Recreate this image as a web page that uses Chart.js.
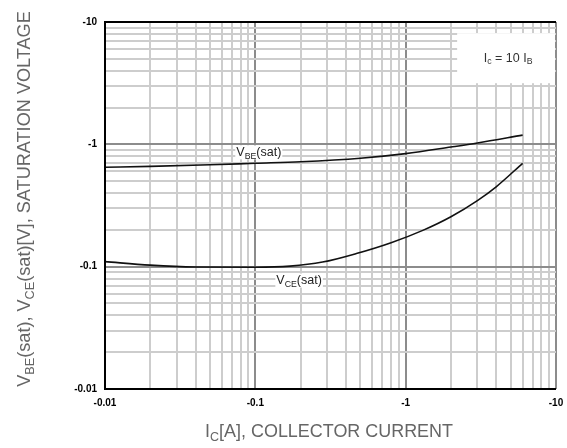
<!DOCTYPE html>
<html>
<head>
<meta charset="utf-8">
<script src="https://cdn.jsdelivr.net/npm/chart.js@4/dist/chart.umd.min.js"></script>
<style>
html,body{margin:0;padding:0;background:#fff;}
#wrap{width:567px;height:448px;position:relative;}
</style>
</head>
<body>
<div id="wrap"><canvas id="c" width="567" height="448"></canvas></div>
<script>
// ---- data ----
const vbeCurrents = [0.01, 0.02, 0.05, 0.1, 0.2, 0.5, 1, 2, 3, 6];
const vbeValues   = [0.65, 0.66, 0.68, 0.70, 0.72, 0.77, 0.84, 0.95, 1.025, 1.19];
const vceCurrents = [0.01, 0.02, 0.04, 0.1, 0.17, 0.28, 0.47, 0.8, 1.3, 2, 3, 4, 6];
const vceValues   = [0.11, 0.103, 0.0995, 0.099, 0.101, 0.109, 0.128, 0.157, 0.198, 0.256, 0.347, 0.45, 0.70];
const majorTicks  = [0.01, 0.1, 1, 10];
const majorLabels = ['-0.01', '-0.1', '-1', '-10'];
const seriesNames = ['VBE(sat)', 'VCE(sat)'];

const FONT = '"Liberation Sans", Arial, sans-serif';

function toPoints(xs, ys){ return xs.map((x,i)=>({x:x, y:ys[i]})); }
function isMajor(v){ return majorTicks.some(m => Math.abs(m - v) / m < 1e-6); }
function logTicks(scale){
  const t = [];
  for (let i = 0; i < majorTicks.length - 1; i++) {
    for (let m = 1; m <= 9; m++) t.push({value: Number((majorTicks[i]*m).toPrecision(4))});
  }
  t.push({value: majorTicks[majorTicks.length-1]});
  scale.ticks = t;
}
function tickLabel(v){
  const idx = majorTicks.findIndex(m => Math.abs(m - v) / m < 1e-6);
  return idx >= 0 ? majorLabels[idx] : '';
}

function drawSubText(ctx, parts, size){
  let x = 0;
  parts.forEach(p => {
    if (p[1]) {
      ctx.font = (size*0.7) + 'px ' + FONT;
      ctx.fillText(p[0], x, size*0.3);
    } else {
      ctx.font = size + 'px ' + FONT;
      ctx.fillText(p[0], x, 0);
    }
    x += ctx.measureText(p[0]).width;
  });
  return x;
}
function measureSub(ctx, parts, size){
  let w = 0;
  parts.forEach(p => {
    ctx.font = (p[1] ? size*0.7 : size) + 'px ' + FONT;
    w += ctx.measureText(p[0]).width;
  });
  return w;
}

const decor = {
  id: 'decor',
  beforeDatasetsDraw(chart){
    const ctx = chart.ctx;
    const xs = chart.scales.x, ys = chart.scales.y;
    const a = chart.chartArea;
    ctx.save();
    // condition box
    const bx = xs.getPixelForValue(2.2), by = ys.getPixelForValue(8.1);
    const bw = a.right - bx - 1, bh = ys.getPixelForValue(3.16) - by;
    ctx.fillStyle = '#fff';
    ctx.fillRect(bx, by, bw, bh);
    ctx.fillStyle = '#333';
    ctx.textBaseline = 'middle';
    ctx.save();
    const partsBox = [['I',0],['c',1],[' = 10 I',0],['B',1]];
    const wBox = measureSub(ctx, partsBox, 12.5);
    ctx.translate(bx + bw/2 - wBox/2 + 2, by + bh/2);
    drawSubText(ctx, partsBox, 12.5);
    ctx.restore();
    // curve labels
    const labels = [
      {parts:[['V',0],['BE',1],['(sat)',0]], x:0.0747, y:0.86},
      {parts:[['V',0],['CE',1],['(sat)',0]], x:0.138, y:0.077}
    ];
    labels.forEach(l => {
      const px = xs.getPixelForValue(l.x), py = ys.getPixelForValue(l.y);
      const w = measureSub(ctx, l.parts, 12.5);
      ctx.fillStyle = '#fff';
      ctx.fillRect(px - 1, py - 7, w + 2, 14);
      ctx.fillStyle = '#222';
      ctx.save();
      ctx.translate(px, py);
      drawSubText(ctx, l.parts, 12.5);
      ctx.restore();
    });
    ctx.restore();
  },
  afterDraw(chart){
    const ctx = chart.ctx;
    const a = chart.chartArea;
    ctx.save();
    ctx.strokeStyle = '#000';
    ctx.lineWidth = 2;
    ctx.beginPath();
    ctx.moveTo(a.right, a.top); ctx.lineTo(a.left, a.top);
    ctx.lineTo(a.left, a.bottom); ctx.lineTo(a.right, a.bottom);
    ctx.stroke();
    // axis titles
    ctx.fillStyle = '#666';
    ctx.textBaseline = 'middle';
    const yParts = [['V',0],['BE',1],['(sat), V',0],['CE',1],['(sat)[V], SATURATION VOLTAGE',0]];
    let s = 14;
    s = s * 376 / measureSub(ctx, yParts, s);
    const wy = measureSub(ctx, yParts, s);
    ctx.save();
    ctx.translate(25, 199 + wy/2);
    ctx.rotate(-Math.PI/2);
    drawSubText(ctx, yParts, s);
    ctx.restore();
    const xParts = [['I',0],['C',1],['[A], COLLECTOR CURRENT',0]];
    let sx = 14;
    sx = sx * 248 / measureSub(ctx, xParts, sx);
    const wx = measureSub(ctx, xParts, sx);
    ctx.save();
    ctx.translate(329 - wx/2, 432);
    drawSubText(ctx, xParts, sx);
    ctx.restore();
    ctx.restore();
  }
};

const gridOpts = {
  color: c => isMajor(c.tick.value) ? '#8c8c8c' : '#cdcdcd',
  lineWidth: 2,
  drawTicks: false
};

new Chart(document.getElementById('c'), {
  type: 'line',
  data: {
    datasets: [
      {label: seriesNames[0], data: toPoints(vbeCurrents, vbeValues), borderColor: '#111', borderWidth: 1.6, pointRadius: 0, cubicInterpolationMode: 'monotone', fill: false},
      {label: seriesNames[1], data: toPoints(vceCurrents, vceValues), borderColor: '#111', borderWidth: 1.6, pointRadius: 0, cubicInterpolationMode: 'monotone', fill: false}
    ]
  },
  options: {
    responsive: false,
    animation: false,
    layout: {padding: {top: 22, right: 11, left: 0, bottom: 0}},
    plugins: {legend: {display: false}, tooltip: {enabled: false}},
    scales: {
      x: {
        type: 'logarithmic', min: 0.01, max: 10,
        afterBuildTicks: logTicks,
        afterFit: s => { s.height = 59; s.paddingRight = 0; s.paddingLeft = 0; },
        grid: gridOpts,
        border: {display: false},
        ticks: {autoSkip: false, maxRotation: 0, padding: 8, color: '#000', font: {family: FONT, size: 10, weight: 'bold'}, callback: v => tickLabel(v)}
      },
      y: {
        type: 'logarithmic', min: 0.01, max: 10,
        afterBuildTicks: logTicks,
        afterFit: s => { s.width = 105; s.paddingTop = 0; s.paddingBottom = 0; },
        grid: gridOpts,
        border: {display: false},
        ticks: {autoSkip: false, padding: 8, color: '#000', font: {family: FONT, size: 10, weight: 'bold'}, callback: v => tickLabel(v)}
      }
    }
  },
  plugins: [decor]
});
</script>
</body>
</html>
